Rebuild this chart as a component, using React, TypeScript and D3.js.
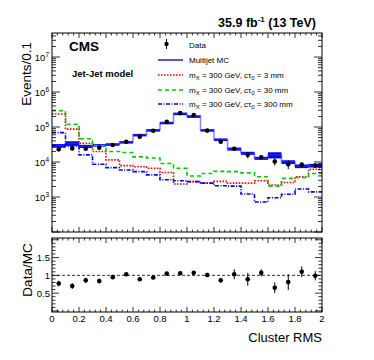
import * as d3 from 'd3';

// bins of Cluster RMS, width 0.1
const binLow = [0, 0.1, 0.2, 0.3, 0.4, 0.5, 0.6, 0.7, 0.8, 0.9, 1.0, 1.1, 1.2, 1.3, 1.4, 1.5, 1.6, 1.7, 1.8, 1.9];
const binWidth = 0.1;

const mcCounts = [2.9e4, 3.4e4, 2.8e4, 3.0e4, 3.2e4, 3.7e4, 6.0e4, 8.2e4, 1.33e5, 2.45e5, 2.05e5, 8.2e4, 4.4e4, 2.35e4, 1.78e4, 1.28e4, 1.58e4, 1.0e4, 7.6e3, 7.9e3];
const mcErrRel = [0.12, 0.15, 0.1, 0.08, 0.07, 0.07, 0.06, 0.06, 0.06, 0.05, 0.05, 0.06, 0.07, 0.1, 0.1, 0.1, 0.2, 0.12, 0.12, 0.12];
const dataCounts = [2.3e4, 2.45e4, 2.4e4, 2.55e4, 3.05e4, 3.8e4, 5.3e4, 7.8e4, 1.4e5, 2.5e5, 2.2e5, 7.9e4, 3.8e4, 2.4e4, 1.6e4, 1.37e4, 1.03e4, 8.6e3, 8.4e3, 7.9e3];
const ratio = [0.77, 0.7, 0.86, 0.84, 0.95, 1.03, 0.89, 0.94, 1.05, 1.06, 1.07, 1.01, 0.86, 1.03, 0.89, 1.07, 0.65, 0.81, 1.1, 0.99];
const ratioErr = [0.08, 0.08, 0.07, 0.07, 0.04, 0.04, 0.05, 0.05, 0.04, 0.04, 0.04, 0.06, 0.07, 0.14, 0.18, 0.1, 0.15, 0.22, 0.15, 0.13];

const sig3mm = [2.35e5, 8.7e4, 3.4e4, 2.0e4, 1.15e4, 7.9e3, 7.3e3, 6.6e3, 5.0e3, 2.35e3, 2.75e3, 2.5e3, 2.8e3, 2.5e3, 2.5e3, 2.9e3, 2.2e3, 2.6e3, 3.8e3, 6.2e3];
const sig30mm = [2.9e5, 1.2e5, 4.6e4, 2.9e4, 2.0e4, 1.87e4, 1.4e4, 1.3e4, 9.1e3, 6.6e3, 4.0e3, 4.7e3, 5.4e3, 5.3e3, 4.9e3, 3.8e3, 2.05e3, 3.4e3, 3.6e3, 4.7e3];
const sig300mm = [6.9e4, 2.8e4, 1.6e4, 8.6e3, 6.9e3, 5.9e3, 5.3e3, 4.3e3, 3.1e3, 2.9e3, 2.75e3, 2.5e3, 2.1e3, 2.05e3, 1.22e3, 7.2e2, 9.5e2, 1.2e3, 1.7e3, 1.4e3];

const xTickLabels = ['0', '0.2', '0.4', '0.6', '0.8', '1', '1.2', '1.4', '1.6', '1.8', '2'];
const yTopLabelExps = [3, 4, 5, 6, 7];
const ratioTickLabels = ['0.5', '1', '1.5'];

const FONT = '"Liberation Sans", Arial, Helvetica, sans-serif';

const left = 52;
const right = 322;
const topY1 = 33;
const topY2 = 232;
const botY1 = 238;
const botY2 = 312;

const App = () => {
  const x = d3.scaleLinear().domain([0, 2]).range([left, right]);
  const y = d3.scaleLog().domain([100, Math.pow(10, 7.686)]).range([topY2, topY1]);
  const yr = d3.scaleLinear().domain([-0.03, 2.05]).range([botY2, botY1]);

  const step = (vals: number[]) => {
    const pts: [number, number][] = [];
    vals.forEach((v, i) => {
      pts.push([x(binLow[i]), y(v)]);
      pts.push([x(binLow[i] + binWidth), y(v)]);
    });
    return d3.line()(pts) || '';
  };

  // tick positions
  const xMinor = d3.range(0, 2.0001, 0.04);
  const xMajor = d3.range(0, 2.0001, 0.2);
  const yTicks = y.ticks(20).filter(t => t >= 100 && t <= y.domain()[1]);
  const isMajor = (t: number) => Math.abs(Math.log10(t) - Math.round(Math.log10(t))) < 1e-6;
  const rMinor = d3.range(0, 2.0001, 0.1);
  const rMajor = [0, 0.5, 1, 1.5, 2];

  const sigStyles = [
    { vals: sig3mm, color: '#ff0000', dash: '1.6,1.4', label: '3' },
    { vals: sig30mm, color: '#00cc00', dash: '4,3', label: '30' },
    { vals: sig300mm, color: '#0000ff', dash: '4,1.5,1,1.5', label: '300' },
  ];

  const legX = 158;
  const legTextX = 189;
  const legRows = [45, 60, 75, 90, 104];

  return (
    <svg width={374} height={360} style={{ position: 'absolute', left: 0, top: 0, background: '#fff' }} fontFamily={FONT}>
      <rect width={374} height={360} fill="#fff" />

      {/* MC band */}
      <g>
        {mcCounts.map((v, i) => (
          <rect
            key={i}
            x={x(binLow[i])}
            width={x(binLow[i] + binWidth) - x(binLow[i])}
            y={y(v * (1 + mcErrRel[i]))}
            height={Math.max(2.5, y(v * (1 - mcErrRel[i])) - y(v * (1 + mcErrRel[i])))}
            fill="#0000f0"
          />
        ))}
        <path d={step(mcCounts)} fill="none" stroke="#3333ee" strokeWidth={1.5} strokeOpacity={0.6} />
      </g>

      {/* signals */}
      {sigStyles.map(s => (
        <path key={s.label} d={step(s.vals)} fill="none" stroke={s.color} strokeWidth={1.6} strokeDasharray={s.dash} />
      ))}

      {/* data */}
      {dataCounts.map((v, i) => {
        const cx = x(binLow[i] + binWidth / 2);
        const e = v * ratioErr[i] / ratio[i];
        return (
          <g key={i}>
            <line x1={cx} x2={cx} y1={y(v + e)} y2={y(Math.max(v - e, 1))} stroke="#000" strokeWidth={1} />
            <circle cx={cx} cy={y(v)} r={2.3} fill="#000" />
          </g>
        );
      })}

      {/* top frame */}
      <rect x={left} y={topY1} width={right - left} height={topY2 - topY1} fill="none" stroke="#000" strokeWidth={1} />
      {xMinor.map((t, i) => {
        const major = xMajor.some(m => Math.abs(m - t) < 1e-6);
        const len = major ? 5 : 2.5;
        return (
          <g key={i} stroke="#000" strokeWidth={0.8}>
            <line x1={x(t)} x2={x(t)} y1={topY2} y2={topY2 - len} />
            <line x1={x(t)} x2={x(t)} y1={topY1} y2={topY1 + len} />
          </g>
        );
      })}
      {yTicks.map((t, i) => {
        const len = isMajor(t) ? 8 : 4;
        return (
          <g key={i} stroke="#000" strokeWidth={0.8}>
            <line x1={left} x2={left + len} y1={y(t)} y2={y(t)} />
            <line x1={right} x2={right - len} y1={y(t)} y2={y(t)} />
          </g>
        );
      })}
      {yTopLabelExps.map(e => (
        <text key={e} x={left - 3} y={y(Math.pow(10, e)) + 3.5} textAnchor="end" fontSize={9.5} fill="#000">
          10<tspan dy={-4} fontSize={6.5}>{e}</tspan>
        </text>
      ))}
      <text transform={`translate(31,${42}) rotate(-90)`} textAnchor="end" fontSize={13.5} fill="#000">Events/0.1</text>

      {/* labels */}
      <text x={69} y={51} fontSize={13.5} fontWeight="bold" fill="#000">CMS</text>
      <text x={72} y={77} fontSize={9.5} fontWeight="bold" fill="#000">Jet-Jet model</text>
      <text x={316} y={27} textAnchor="end" fontSize={12.5} fontWeight="bold" fill="#000">
        35.9 fb<tspan dy={-5} fontSize={8}>-1</tspan><tspan dy={5}> (13 TeV)</tspan>
      </text>

      {/* legend */}
      <g fontSize={8} fill="#000">
        <line x1={legX + 8.5} x2={legX + 8.5} y1={legRows[0] - 6} y2={legRows[0] + 4} stroke="#000" strokeWidth={1} />
        <circle cx={legX + 8.5} cy={legRows[0] - 1} r={2.2} fill="#000" />
        <text x={legTextX} y={legRows[0] + 2.5}>Data</text>
        <line x1={legX} x2={legX + 25} y1={legRows[1]} y2={legRows[1]} stroke="#5555dd" strokeWidth={2} />
        <text x={legTextX} y={legRows[1] + 2.5}>Multijet MC</text>
        {sigStyles.map((s, i) => (
          <g key={s.label}>
            <line x1={legX} x2={legX + 25} y1={legRows[i + 2]} y2={legRows[i + 2]} stroke={s.color} strokeWidth={1.6} strokeDasharray={s.dash} />
            <text x={legTextX} y={legRows[i + 2] + 2.5}>
              m<tspan dy={2} fontSize={6}>X</tspan><tspan dy={-2}> = 300 GeV, c</tspan>τ<tspan dy={2} fontSize={6}>0</tspan><tspan dy={-2}>{` = ${s.label} mm`}</tspan>
            </text>
          </g>
        ))}
      </g>

      {/* ratio panel */}
      <line x1={left} x2={right} y1={yr(1)} y2={yr(1)} stroke="#000" strokeWidth={0.8} strokeDasharray="3,2" />
      {ratio.map((r, i) => {
        const cx = x(binLow[i] + binWidth / 2);
        return (
          <g key={i}>
            <line x1={cx} x2={cx} y1={yr(r + ratioErr[i])} y2={yr(r - ratioErr[i])} stroke="#000" strokeWidth={1} />
            <circle cx={cx} cy={yr(r)} r={2.3} fill="#000" />
          </g>
        );
      })}
      <rect x={left} y={botY1} width={right - left} height={botY2 - botY1} fill="none" stroke="#000" strokeWidth={1} />
      {xMinor.map((t, i) => {
        const major = xMajor.some(m => Math.abs(m - t) < 1e-6);
        const len = major ? 5 : 2.5;
        return (
          <g key={i} stroke="#000" strokeWidth={0.8}>
            <line x1={x(t)} x2={x(t)} y1={botY2} y2={botY2 - len} />
            <line x1={x(t)} x2={x(t)} y1={botY1} y2={botY1 + len} />
          </g>
        );
      })}
      {rMinor.map((t, i) => {
        const major = rMajor.some(m => Math.abs(m - t) < 1e-6);
        const len = major ? 7 : 3.5;
        return (
          <g key={i} stroke="#000" strokeWidth={0.8}>
            <line x1={left} x2={left + len} y1={yr(t)} y2={yr(t)} />
            <line x1={right} x2={right - len} y1={yr(t)} y2={yr(t)} />
          </g>
        );
      })}
      {ratioTickLabels.map(l => (
        <text key={l} x={left - 2} y={yr(+l) + 3.5} textAnchor="end" fontSize={9.5} fill="#000">{l}</text>
      ))}
      {xTickLabels.map(l => (
        <text key={l} x={x(+l)} y={322} textAnchor="middle" fontSize={9.5} fill="#000">{l}</text>
      ))}
      <text transform={`translate(32,${270}) rotate(-90)`} textAnchor="middle" fontSize={13.5} fill="#000">Data/MC</text>
      <text x={right} y={342} textAnchor="end" fontSize={13} fill="#000">Cluster RMS</text>
    </svg>
  );
};

export default App;
